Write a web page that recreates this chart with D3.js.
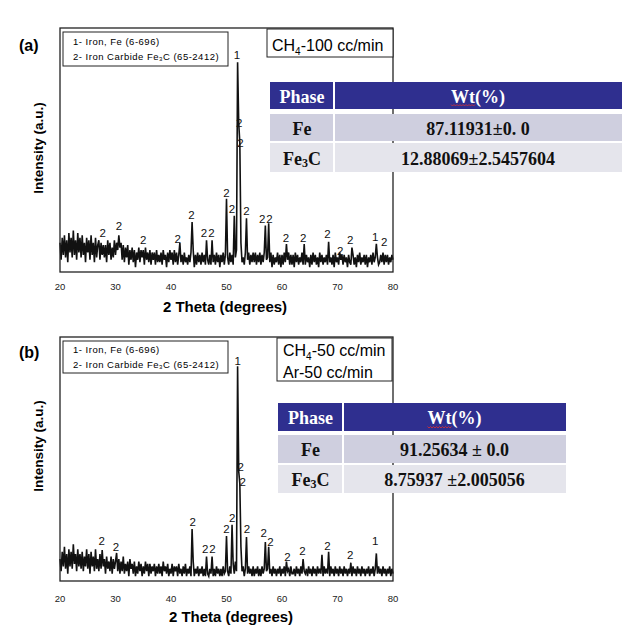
<!DOCTYPE html>
<html>
<head>
<meta charset="utf-8">
<script src="https://cdn.jsdelivr.net/npm/d3@7"></script>
<style>
  body { margin: 0; background: #fff; }
  svg { display: block; }
</style>
</head>
<body>
<div id="chart"></div>
<script>
// 2-theta grid of the scans
const thetaStart = 20, thetaStep = 0.2;
const xTicks = [20, 30, 40, 50, 60, 70, 80];

// (a) CH4-100 cc/min, one row per degree (5 points each)
const intensityA = [
  12, 5, 14, 7, 15,   6, 13, 4, 16, 8,    14, 6, 17, 7, 13,   5, 16, 8, 14, 6,
  15, 7, 12, 4, 14,   8, 13, 5, 15, 7,    12, 4, 14, 6, 11,   13, 5, 12, 7, 11,
  6, 11, 4, 13, 7,    12, 5, 10, 6, 13,   7, 12, 9, 15, 10,   12, 5, 11, 4, 10,
  6, 11, 3, 9, 5,     10, 4, 9, 2, 8,     5, 10, 4, 9, 6,     9, 3, 10, 5, 8,
  4, 9, 3, 8, 5,      8, 3, 9, 4, 7,      4, 8, 3, 9, 5,      7, 2, 8, 4, 9,
  5, 8, 3, 9, 4,      8, 3, 7, 12, 4,     7, 3, 8, 4, 6,      3, 7, 4, 8, 20.5,
  9, 2, 7, 3, 8,      4, 7, 3, 8, 4,      7, 3, 13, 5, 3,     7, 3, 13, 4, 7,
  3, 8, 4, 7, 2,      7, 4, 8, 3, 7,      30, 6, 3, 8, 4,     7, 3, 23, 6, 9,
  86, 61, 53, 12, 4,  6, 3, 8, 22, 5,     8, 3, 7, 4, 8,      4, 8, 3, 7, 4,
  8, 3, 7, 4, 8,      19, 5, 6, 20, 4,    8, 2, 7, 3, 6,      4, 8, 3, 7, 2,
  7, 3, 8, 4, 11.5,   5, 8, 3, 7, 3,      7, 2, 8, 4, 7,      3, 6, 4, 8, 3,
  11.5, 3, 7, 4, 6,   2, 7, 3, 8, 4,      7, 3, 6, 2, 8,      4, 7, 3, 6, 4,
  7, 3, 12.4, 4, 6,   3, 7, 2, 8, 4,      6, 3, 8, 5, 7,      3, 7, 4, 6, 2,
  7, 4, 3, 10, 7,     3, 6, 2, 7, 4,      8, 3, 6, 4, 7,      3, 7, 2, 6, 4,
  7, 3, 8, 4, 6,      11.5, 6, 3, 4, 7,   4, 8, 3, 7, 4,      7, 3, 6, 4, 7,
  5
];

// (b) CH4-50 / Ar-50 cc/min
const intensityB = [
  9, 4, 12, 6, 14,    5, 11, 3, 13, 6,    12, 5, 15, 7, 11,   4, 13, 6, 11, 5,
  12, 4, 10, 6, 13,   5, 11, 3, 12, 6,    10, 4, 13, 5, 9,    4, 11, 5, 12.7, 6,
  9, 3, 10, 5, 8,     4, 10, 3, 9, 5,     8, 11.5, 4, 9, 3,   8, 4, 10, 3, 7,
  4, 8, 2, 9, 5,      7, 3, 8, 2, 6,      3, 8, 4, 7, 2,      6, 3, 8, 4, 7,
  2, 7, 3, 6, 4,      7, 2, 6, 3, 7,      3, 6, 2, 8, 4,      6, 3, 7, 2, 5,
  3, 7, 2, 6, 4,      6, 2, 7, 3, 5,      2, 6, 3, 7, 2,      5, 3, 6, 2, 21.3,
  8, 2, 5, 3, 6,      2, 5, 3, 6, 2,      5, 2, 10, 3, 2,     5, 3, 10, 2, 5,
  2, 6, 3, 5, 2,      5, 2, 6, 3, 4,      18.4, 4, 2, 6, 3,   23, 7, 3, 8, 4,
  88, 45, 40, 14, 4,  6, 2, 5, 18, 3,     6, 3, 5, 2, 6,      2, 5, 3, 6, 2,
  5, 2, 6, 3, 5,      16, 4, 5, 14, 3,    5, 2, 6, 3, 5,      2, 5, 3, 6, 2,
  5, 3, 6, 2, 8,      4, 5, 2, 6, 3,      3, 5, 2, 6, 3,      5, 2, 6, 3, 9,
  4, 3, 5, 2, 6,      3, 5, 2, 6, 3,      5, 2, 6, 3, 5,      3, 10.7, 2, 6, 3,
  5, 3, 12, 2, 6,     3, 5, 2, 6, 3,      5, 2, 6, 3, 5,      2, 6, 3, 5, 2,
  5, 3, 7.5, 2, 6,    3, 5, 2, 6, 3,      5, 2, 6, 3, 5,      2, 5, 3, 6, 2,
  5, 3, 6, 2, 5,      11.3, 3, 6, 3, 5,   2, 6, 3, 5, 2,      5, 3, 6, 2, 5,
  3
];

// peak markers: [text, 2theta, intensity]
const labelsA = [
  ["1", 51.9, 89], ["2", 52.3, 61], ["2", 52.5, 53], ["2", 50.0, 32.4], ["2", 51.0, 25.8],
  ["2", 53.6, 25], ["2", 43.7, 23.4], ["2", 45.95, 16], ["2", 47.3, 16], ["2", 56.45, 21.7],
  ["2", 57.75, 21.7], ["2", 27.7, 16], ["2", 30.6, 18.9], ["2", 35.0, 13], ["2", 41.2, 13.5],
  ["2", 60.7, 13.8], ["2", 63.8, 13.8], ["2", 68.2, 15.4], ["2", 70.5, 8.6], ["2", 72.3, 13],
  ["1", 76.8, 14.3], ["2", 78.4, 12.3]
];
const labelsB = [
  ["1", 52.0, 90], ["2", 52.56, 46.8], ["2", 52.9, 40.7], ["2", 43.9, 24.3], ["2", 50.0, 21.2],
  ["2", 51.05, 26], ["2", 53.67, 21.2], ["2", 56.7, 19.5], ["2", 57.9, 16.1], ["2", 46.15, 13],
  ["2", 47.45, 13], ["2", 27.5, 16.4], ["2", 30.1, 14], ["2", 61.0, 10], ["2", 63.7, 12.3],
  ["2", 68.2, 14.5], ["2", 72.3, 10.5], ["1", 76.8, 16.4]
];

const phases = ["Fe", "Fe3C"];
const wtA = ["87.11931\u00b10. 0", "12.88069\u00b12.5457604"];
const wtB = ["91.25634 \u00b1 0.0", "8.75937 \u00b12.005056"];
const gasA = [["CH", "4", "-100 cc/min"]];
const gasB = [["CH", "4", "-50 cc/min"], ["Ar-50 cc/min"]];

const sans = "'Liberation Sans', Arial, sans-serif";
const serif = "'Liberation Serif', 'Times New Roman', serif";

const svg = d3.select("#chart").append("svg")
  .attr("width", 643).attr("height", 641)
  .style("font-family", sans);

const panels = [
  { tag: "(a)", tagY: 45, top: 28, bottom: 272, tickDy: 14, titleX: 225, titleY: 306, yTitleY: 148,
    data: intensityA, labels: labelsA, legendY: 32, legendH: 34, legendLines: [41, 56],
    gas: gasA, gasBox: [267, 29, 126, 28], gasX: 272, gasLines: [51],
    table: { x0: 270, split: 334, x1: 622, rows: [[82, 27], [114, 27], [143, 29]], wt: wtA } },
  { tag: "(b)", tagY: 352, top: 337, bottom: 581, tickDy: 17, titleX: 231, titleY: 616, yTitleY: 446,
    data: intensityB, labels: labelsB, legendY: 341, legendH: 32, legendLines: [349, 364],
    gas: gasB, gasBox: [277, 338, 115, 43], gasX: 283, gasLines: [356, 378],
    table: { x0: 278, split: 343, x1: 566, rows: [[403, 28], [435, 28], [465, 28]], wt: wtB } }
];

const left = 60, right = 393;

panels.forEach(function (p) {
  var g = svg.append("g");
  var x = d3.scaleLinear().domain([20, 80]).range([left, right]);
  var y = d3.scaleLinear().domain([0, 100]).range([p.bottom, p.top]);

  // trace
  var line = d3.line()
    .x(function (d, i) { return x(thetaStart + i * thetaStep); })
    .y(function (d) { return y(d); });
  g.append("path")
    .datum(p.data)
    .attr("d", line)
    .attr("fill", "none")
    .attr("stroke", "#111")
    .attr("stroke-width", 1.6);

  // frame
  g.append("rect")
    .attr("x", left).attr("y", p.top)
    .attr("width", right - left).attr("height", p.bottom - p.top)
    .attr("fill", "none").attr("stroke", "#222").attr("stroke-width", 1.3);

  // tick labels
  g.selectAll(".tick").data(xTicks).enter().append("text")
    .attr("x", function (d) { return x(d); })
    .attr("y", p.bottom + p.tickDy)
    .attr("text-anchor", "middle").attr("dominant-baseline", "central")
    .attr("font-size", 9.5).attr("fill", "#222")
    .text(function (d) { return d; });

  // axis titles
  g.append("text")
    .attr("x", p.titleX).attr("y", p.titleY)
    .attr("text-anchor", "middle").attr("dominant-baseline", "central")
    .attr("font-size", 15).attr("font-weight", "bold")
    .text("2 Theta (degrees)");
  g.append("text")
    .attr("transform", "translate(38," + p.yTitleY + ") rotate(-90)")
    .attr("text-anchor", "middle").attr("dominant-baseline", "central")
    .attr("font-size", 13.5).attr("font-weight", "bold")
    .text("Intensity (a.u.)");

  g.append("text")
    .attr("x", 19).attr("y", p.tagY)
    .attr("dominant-baseline", "central")
    .attr("font-size", 16).attr("font-weight", "bold")
    .text(p.tag);

  // peak labels
  g.selectAll(".pk").data(p.labels).enter().append("text")
    .attr("x", function (d) { return x(d[1]); })
    .attr("y", function (d) { return y(d[2]); })
    .attr("text-anchor", "middle").attr("dominant-baseline", "central")
    .attr("font-size", 11.5).attr("fill", "#111")
    .text(function (d) { return d[0]; });

  // phase legend
  g.append("rect")
    .attr("x", 63).attr("y", p.legendY).attr("width", 165).attr("height", p.legendH)
    .attr("fill", "#fff").attr("stroke", "#222").attr("stroke-width", 1);
  g.append("text")
    .attr("x", 73).attr("y", p.legendLines[0]).attr("dominant-baseline", "central")
    .attr("font-size", 9.5).attr("letter-spacing", 0.5)
    .text("1- Iron, Fe (6-696)");
  var l2 = g.append("text")
    .attr("x", 73).attr("y", p.legendLines[1]).attr("dominant-baseline", "central")
    .attr("font-size", 9.5).attr("letter-spacing", 0.5);
  l2.append("tspan").text("2- Iron Carbide Fe");
  l2.append("tspan").attr("font-size", 6).attr("dy", 3).text("3");
  l2.append("tspan").attr("dy", -3).text("C (65-2412)");

  // gas box
  g.append("rect")
    .attr("x", p.gasBox[0]).attr("y", p.gasBox[1])
    .attr("width", p.gasBox[2]).attr("height", p.gasBox[3])
    .attr("fill", "#fff").attr("stroke", "#222").attr("stroke-width", 1);
  p.gas.forEach(function (parts, i) {
    var t = g.append("text").attr("x", p.gasX).attr("y", p.gasLines[i]).attr("font-size", 16);
    if (parts.length === 3) {
      t.append("tspan").text(parts[0]);
      t.append("tspan").attr("font-size", 10).attr("dy", 4).text(parts[1]);
      t.append("tspan").attr("dy", -4).text(parts[2]);
    } else {
      t.text(parts[0]);
    }
  });

  // results table
  var tb = p.table;
  var fills = ["#2f2f8f", "#cfcfdf", "#e5e5ec"];
  tb.rows.forEach(function (r, i) {
    g.append("rect").attr("x", tb.x0).attr("y", r[0])
      .attr("width", tb.split - tb.x0 - 1).attr("height", r[1]).attr("fill", fills[i]);
    g.append("rect").attr("x", tb.split + 1).attr("y", r[0])
      .attr("width", tb.x1 - tb.split - 1).attr("height", r[1]).attr("fill", fills[i]);
  });
  var c1 = (tb.x0 + tb.split) / 2, c2 = (tb.split + tb.x1) / 2;
  function cell(cx, r, color) {
    return g.append("text").attr("x", cx).attr("y", r[0] + r[1] / 2 + 1)
      .attr("text-anchor", "middle").attr("dominant-baseline", "central")
      .attr("font-family", serif).attr("font-weight", "bold").attr("font-size", 18)
      .attr("fill", color);
  }
  cell(c1, tb.rows[0], "#fff").text("Phase");
  var wt = cell(c2, tb.rows[0], "#fff").text("Wt(%)");
  // spell-check squiggle under "Wt"
  var bb = wt.node().getBBox();
  var sub = wt.node().getSubStringLength(0, 2);
  var sy = tb.rows[0][0] + tb.rows[0][1] - 4, pts = [];
  for (var sx = bb.x, k = 0; sx <= bb.x + sub; sx += 1.5, k++) pts.push([sx, sy + (k % 2 ? 1 : -0.5)]);
  g.append("path").attr("d", d3.line()(pts)).attr("fill", "none")
    .attr("stroke", "#e03030").attr("stroke-width", 0.8);

  phases.forEach(function (ph, i) {
    var t = cell(c1, tb.rows[i + 1], "#111");
    if (ph === "Fe3C") {
      t.append("tspan").text("Fe");
      t.append("tspan").attr("font-size", 12).attr("dy", 4).text("3");
      t.append("tspan").attr("dy", -4).text("C");
    } else {
      t.text(ph);
    }
    cell(c2, tb.rows[i + 1], "#111").text(tb.wt[i]);
  });
});
</script>
</body>
</html>
